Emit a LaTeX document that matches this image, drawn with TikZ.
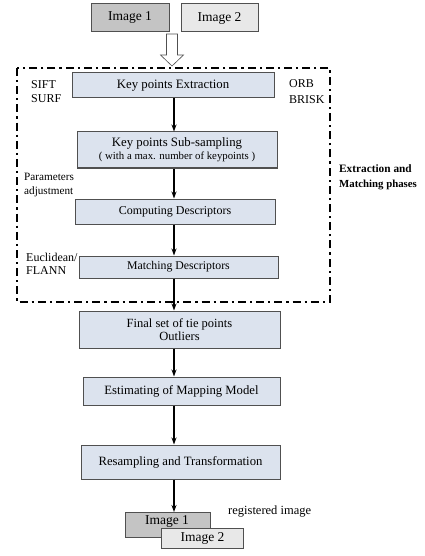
\documentclass[tikz,border=0pt]{standalone}
\usepackage{fontspec}
\setmainfont{Liberation Serif}
\usetikzlibrary{arrows.meta}
\definecolor{boxfill}{RGB}{220,227,238}
\definecolor{boxline}{RGB}{80,80,80}
\definecolor{imgdark}{RGB}{196,196,196}
\definecolor{imglight}{RGB}{232,232,232}
\begin{document}
\begin{tikzpicture}[x=1pt,y=-1pt,
  procbox/.style={draw=boxline, fill=boxfill, line width=1pt, align=center, inner sep=0pt, font=\fontsize{12.8}{14}\selectfont},
  imgbox/.style={draw=boxline, line width=1pt, inner sep=0pt, font=\fontsize{13.5}{14}\selectfont},
  flow/.style={line width=1.6pt, -{Stealth[length=7pt,width=5pt]}},
  sidelabel/.style={font=\fontsize{12}{13}\selectfont, inner sep=0pt, align=left},
  phase/.style={line width=2.2pt, dash pattern=on 8pt off 4pt on 2.2pt off 4pt}]
\useasboundingbox (0,0) rectangle (424,556);
% top input images
\node[imgbox, fill=imgdark, minimum width=78pt, minimum height=28pt] (in1) at (130,18) {Image 1};
\node[imgbox, fill=imglight, minimum width=77pt, minimum height=28pt] (in2) at (219.5,18) {Image 2};
% hollow arrow
\draw[line width=0.6pt, draw=boxline, fill=white] (166.5,34) -- (177.5,34) -- (177.5,55) -- (183.5,55) -- (172,66) -- (160.5,55) -- (166.5,55) -- cycle;
% phase frame
\draw[phase] (17,68) rectangle (330,302);
% process boxes
\node[procbox, minimum width=202pt, minimum height=25pt] (b1) at (173,85.5) {Key points Extraction};
\node[procbox, minimum width=200pt, minimum height=36pt] (b2) at (177,150) {Key points Sub-sampling\\[-1pt]{\fontsize{10.8}{12}\selectfont( with a max. number of keypoints )}};
\node[procbox, minimum width=200pt, minimum height=25pt, font=\fontsize{12}{13}\selectfont] (b3) at (175,211.5) {Computing Descriptors};
\node[procbox, minimum width=199pt, minimum height=22pt, font=\fontsize{11.8}{13}\selectfont] (b4) at (178.5,267) {Matching Descriptors};
\node[procbox, minimum width=201pt, minimum height=37pt, font=\fontsize{12.5}{13.5}\selectfont] (b5) at (179.5,329.5) {Final set of tie points\\Outliers};
\node[procbox, minimum width=197pt, minimum height=28pt, font=\fontsize{12.7}{14}\selectfont] (b6) at (181.5,391) {Estimating of Mapping Model};
\node[procbox, minimum width=199pt, minimum height=34pt, font=\fontsize{12.7}{14}\selectfont] (b7) at (180.5,462) {Resampling and Transformation};
% output images
\node[imgbox, fill=imgdark, minimum width=85pt, minimum height=25pt, anchor=north west] (out1) at (125,512) {};
\node[font=\fontsize{13.5}{14}\selectfont, inner sep=0pt] (out1t) at (167,521) {Image 1};
\node[imgbox, fill=imglight, minimum width=82pt, minimum height=20pt, anchor=north west] (out2) at (161,528) {Image 2};
% arrows
\coordinate (ax) at (174,0);
\draw[flow] (b1.south -| ax) -- (b2.north -| ax);
\draw[flow] (b2.south -| ax) -- (b3.north -| ax);
\draw[flow] (b3.south -| ax) -- (b4.north -| ax);
\draw[flow] (b4.south -| ax) -- (b5.north -| ax);
\draw[flow] (b5.south -| ax) -- (b6.north -| ax);
\draw[flow] (b6.south -| ax) -- (b7.north -| ax);
\draw[flow] (b7.south -| ax) -- (out1.north -| ax);
% side labels
\node[sidelabel, anchor=west] (l1) at (31,85) {SIFT};
\node[sidelabel, anchor=west] (l2) at (31,99) {SURF};
\node[sidelabel, anchor=west] (l3) at (289,84) {ORB};
\node[sidelabel, anchor=west] (l4) at (289,100) {BRISK};
\node[sidelabel, anchor=west, font=\fontsize{11.2}{13}\selectfont] (l5) at (24,177) {Parameters};
\node[sidelabel, anchor=west, font=\fontsize{11.2}{13}\selectfont] (l6) at (24,192) {adjustment};
\node[sidelabel, anchor=west] (l7) at (26,257) {Euclidean/};
\node[sidelabel, anchor=west] (l8) at (26,271) {FLANN};
\node[sidelabel, anchor=west, font=\fontsize{11.3}{13}\selectfont\bfseries] (l9) at (339,169) {Extraction and};
\node[sidelabel, anchor=west, font=\fontsize{10.8}{13}\selectfont\bfseries] (l10) at (339,185) {Matching phases};
\node[sidelabel, anchor=west, font=\fontsize{12.5}{13}\selectfont] (l11) at (228,512) {registered image};
\end{tikzpicture}
\end{document}
